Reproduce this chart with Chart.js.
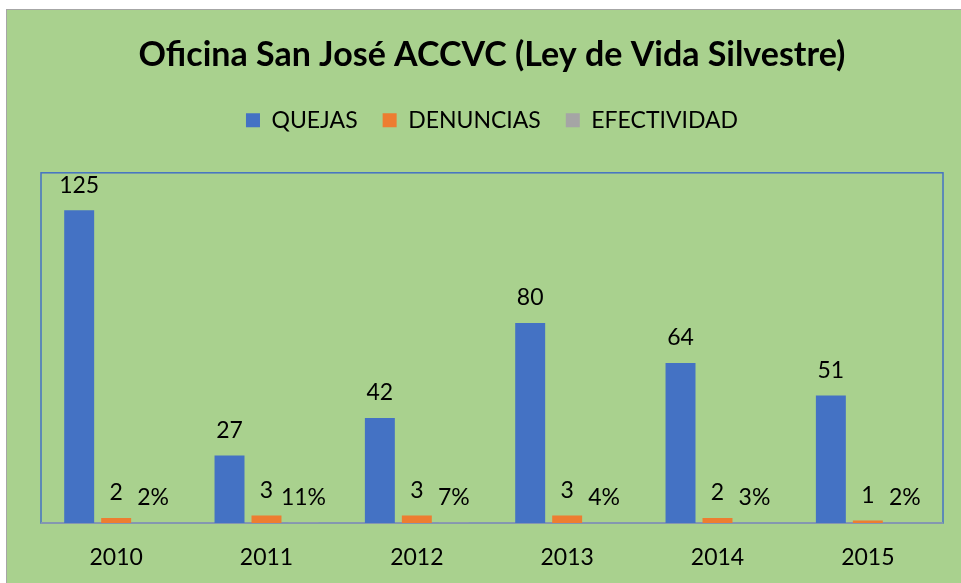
<!DOCTYPE html>
<html>
<head>
<meta charset="utf-8">
<script src="https://cdn.jsdelivr.net/npm/chart.js@4"></script>
<style>
  html, body { margin: 0; padding: 0; background: #fff; overflow: hidden; }
  #frame {
    position: absolute; left: 6px; top: 9px; width: 990px; height: 590px;
    background: #A9D18E; border-top: 1px solid #A6A6A6; border-left: 1px solid #A6A6A6;
  }
  #wrap { position: relative; width: 969px; height: 573px; }
</style>
</head>
<body>
<div id="frame"><div id="wrap"><canvas id="barChart"></canvas></div></div>
<script>
// Datos del gráfico
const years = ["2010", "2011", "2012", "2013", "2014", "2015"];
const quejas = [125, 27, 42, 80, 64, 51];
const denuncias = [2, 3, 3, 3, 2, 1];
const efectividad = [0.02, 0.11, 0.07, 0.04, 0.03, 0.02];

const FONT = "Lato, 'Open Sans', sans-serif";

// Etiquetas de valor encima de cada barra
const valueLabels = {
  id: "valueLabels",
  afterDatasetsDraw(chart) {
    const ctx = chart.ctx;
    ctx.save();
    ctx.font = "23px " + FONT;
    ctx.fillStyle = "#000";
    ctx.textAlign = "center";
    ctx.textBaseline = "middle";
    chart.data.datasets.forEach((ds, i) => {
      chart.getDatasetMeta(i).data.forEach((bar, j) => {
        const v = ds.data[j];
        const txt = i === 2 ? Math.round(v * 100) + "%" : String(v);
        ctx.fillText(txt, bar.x, bar.y - 25);
      });
    });
    ctx.restore();
  }
};

// Marco del área de trazado
const plotFrame = {
  id: "plotFrame",
  beforeDatasetsDraw(chart) {
    const { ctx, chartArea: a } = chart;
    ctx.save();
    ctx.strokeStyle = "#4472C4";
    ctx.lineWidth = 1.5;
    ctx.strokeRect(a.left, a.top, a.width, a.height);
    ctx.strokeStyle = "#8497B0";
    ctx.lineWidth = 2;
    ctx.beginPath();
    ctx.moveTo(a.left, a.bottom);
    ctx.lineTo(a.right, a.bottom);
    ctx.stroke();
    ctx.restore();
  }
};

const ctx = document.getElementById("barChart").getContext("2d");
new Chart(ctx, {
  type: "bar",
  data: {
    labels: years,
    datasets: [
      { label: "QUEJAS", data: quejas, backgroundColor: "#4472C4", borderWidth: 0 },
      { label: "DENUNCIAS", data: denuncias, backgroundColor: "#ED7D31", borderWidth: 0 },
      { label: "EFECTIVIDAD", data: efectividad, backgroundColor: "#A5A5A5", borderWidth: 0 },
    ],
  },
  options: {
    responsive: true,
    maintainAspectRatio: false,
    animation: false,
    categoryPercentage: 0.738,
    barPercentage: 0.81,
    layout: { padding: { left: 34, right: 33, top: 0, bottom: 0 } },
    plugins: {
      title: {
        display: true,
        text: "Oficina San José ACCVC (Ley de Vida Silvestre)",
        color: "#000",
        font: { family: FONT, size: 34, weight: "bold" },
        padding: { top: 25, bottom: 8 },
      },
      legend: {
        display: true,
        labels: {
          color: "#000",
          boxWidth: 14,
          boxHeight: 14,
          padding: 25,
          font: { family: FONT, size: 23 },
        },
      },
      tooltip: { enabled: false },
    },
    scales: {
      gap: {
        position: "top",
        type: "category",
        grid: { display: false, drawTicks: false },
        border: { display: false },
        ticks: { display: false },
        afterFit(s) { s.height = 31; },
      },
      x: {
        grid: { display: false, drawTicks: false },
        border: { display: false },
        ticks: { color: "#000", padding: 21, font: { family: FONT, size: 23 } },
        afterFit(s) { s.height = 60; },
      },
      y: { display: false, min: 0, max: 140 },
    },
  },
  plugins: [plotFrame, valueLabels],
});
</script>
</body>
</html>
